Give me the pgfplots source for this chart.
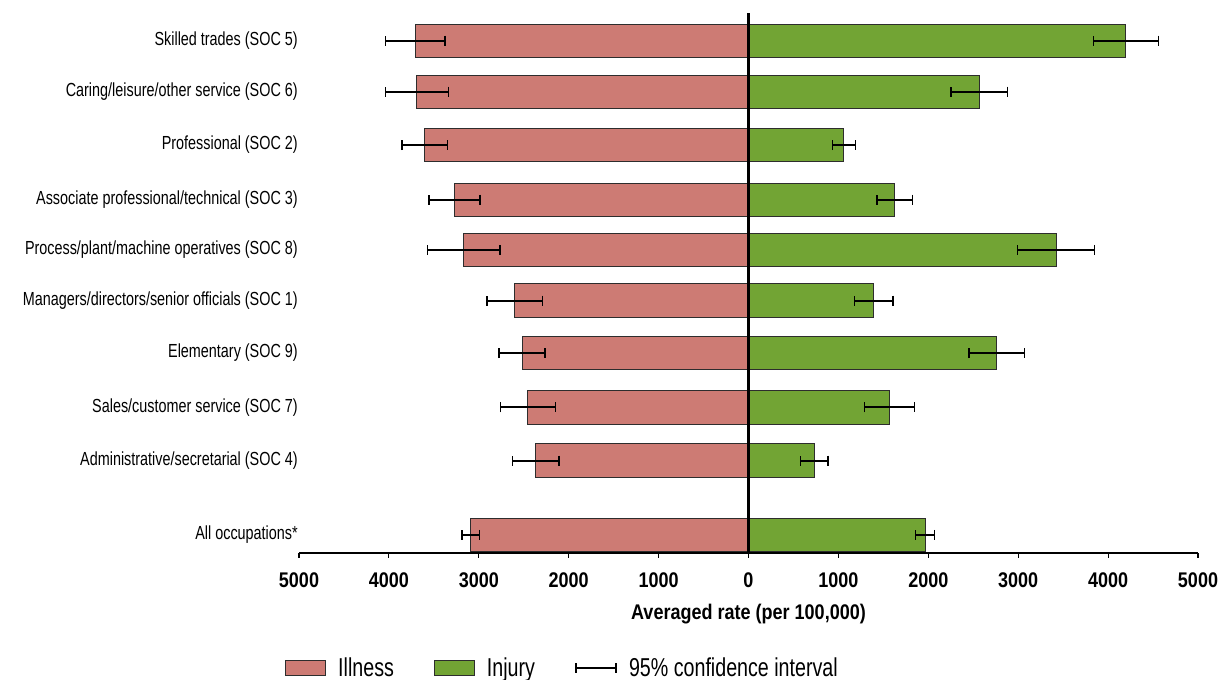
\documentclass[border=0pt]{standalone}
\usepackage{fontspec}
\setmainfont{Liberation Sans}[FakeStretch=0.76]
\newfontfamily\boldcond{Liberation Sans}[FakeStretch=0.85]
\usepackage{pgfplots}
\usepackage{pgfplotstable}
\pgfplotsset{compat=1.18}
\definecolor{illcol}{RGB}{205,123,116}
\definecolor{injcol}{RGB}{114,164,52}
\definecolor{edgecol}{RGB}{45,45,45}
\pgfplotstableread{
pos ill illerr inj injerr
9.419 -3705 330 4197 361
8.448 -3688 348 2568 314
7.429 -3601 253 1062 128
6.390 -3271 283 1628 199
5.434 -3167 403 3422 430
4.467 -2598 309 1395 213
3.467 -2519 256 2761 308
2.429 -2454 306 1568 277
1.419 -2366 257 732 154
0 -3088 97 1965 104
}\datatable
\begin{document}
\begin{tikzpicture}
\path[use as bounding box] (-224.25pt,-95.25pt) rectangle (689.25pt,414.75pt);
\begin{axis}[
  at={(0,0)}, anchor=south west,
  scale only axis, width=674.25pt, height=405.2pt,
  xmin=-5000, xmax=5000, ymin=-0.343, ymax=9.95,
  axis x line*=bottom, axis y line*=left,
  y axis line style={draw=none},
  x axis line style={line width=1.5pt},
  xtick={-5000,-4000,-3000,-2000,-1000,0,1000,2000,3000,4000,5000},
  xticklabels={5000,4000,3000,2000,1000,0,1000,2000,3000,4000,5000},
  xtick align=outside, major tick length=3.75pt,
  xtick style={line width=0.8pt, black},
  xticklabel style={font=\boldcond\bfseries\fontsize{15.9}{18}\selectfont, yshift=-7.5pt},
  ytick={0,1.419,2.429,3.467,4.467,5.434,6.390,7.429,8.448,9.419},
  yticklabels={All occupations*,Administrative/secretarial (SOC 4),Sales/customer service (SOC 7),Elementary (SOC 9),Managers/directors/senior officials (SOC 1),Process/plant/machine operatives (SOC 8),Associate professional/technical (SOC 3),Professional (SOC 2),Caring/leisure/other service (SOC 6),Skilled trades (SOC 5)},
  ytick style={draw=none},
  yticklabel style={font=\fontsize{14.2}{16}\selectfont, anchor=east, inner xsep=0pt, xshift=3pt},
  xlabel={Averaged rate (per 100,000)},
  xlabel style={font=\boldcond\bfseries\fontsize{15.9}{18}\selectfont, at={(axis description cs:0.5,-0.113)}, anchor=center},
  xbar, bar width=0.63, bar shift=0pt,
  legend columns=3,
  legend style={draw=none, fill=none, inner sep=0pt, at={(-0.0156,-0.2128)}, anchor=west,
    font=\fontsize{19.4}{22}\selectfont, nodes={inner sep=0pt},
    column sep=9pt, /tikz/every even column/.append style={column sep=30pt}},
  legend image code/.code={\draw[#1] (0pt,-5.6pt) rectangle (30pt,5.6pt);},
  clip=false,
]
\addplot[fill=illcol, draw=edgecol, line width=0.75pt,
  error bars/.cd, x dir=both, x explicit,
  error bar style={line width=1.5pt, black},
  error mark options={rotate=90, line width=1pt, mark size=3.75pt, black}]
  table[x=ill, y=pos, x error=illerr] {\datatable};
\addlegendentry{Illness}
\addplot[fill=injcol, draw=edgecol, line width=0.75pt,
  error bars/.cd, x dir=both, x explicit,
  error bar style={line width=1.5pt, black},
  error mark options={rotate=90, line width=1pt, mark size=3.75pt, black}]
  table[x=inj, y=pos, x error=injerr] {\datatable};
\addlegendentry{Injury}
\addlegendimage{legend image code/.code={\draw[line width=1.5pt] (0pt,0pt) -- (30pt,0pt); \draw[line width=1pt] (0pt,-3.75pt) -- (0pt,3.75pt); \draw[line width=1pt] (30pt,-3.75pt) -- (30pt,3.75pt);}}
\addlegendentry{95\% confidence interval}
\draw[line width=1.6pt, black] (axis cs:0,-0.343) -- (axis cs:0,9.95);
\end{axis}
\end{tikzpicture}
\end{document}
